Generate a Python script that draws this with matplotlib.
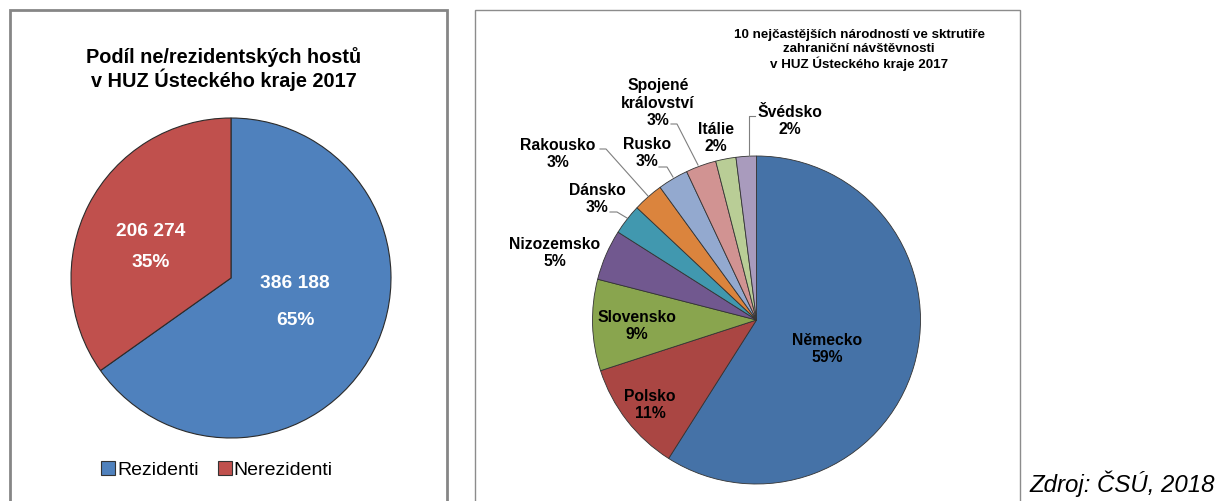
import matplotlib
matplotlib.use("Agg")
import matplotlib.pyplot as plt
from matplotlib.patches import Patch, Rectangle

plt.rcParams['font.family'] = ['Liberation Sans', 'DejaVu Sans']

# left chart: residents vs non-residents
guest_types = ['Rezidenti', 'Nerezidenti']
guest_counts = [386188, 206274]
guest_colors = ['#4F81BD', '#C0504D']

# right chart: top 10 nationalities (%)
countries = ['Německo', 'Polsko', 'Slovensko', 'Nizozemsko', 'Dánsko',
             'Rakousko', 'Rusko', 'Spojené\nkrálovství', 'Itálie', 'Švédsko']
shares = [59, 11, 9, 5, 3, 3, 3, 3, 2, 2]
country_colors = ['#4572A7', '#AA4643', '#89A54E', '#71588F', '#4198AF',
                  '#DB843D', '#93A9CF', '#D19392', '#B9CD96', '#A99BBD']

W, H = 1220, 501
fig = plt.figure(figsize=(W / 100, H / 100), dpi=100)
ax = fig.add_axes([0, 0, 1, 1])


def Y(y):
    # pixel row (from top) -> data y
    return H - y


# panel frames
ax.add_patch(Rectangle((10, Y(510)), 437, 500, fill=False, edgecolor='#868686', lw=2))
ax.add_patch(Rectangle((475, Y(510)), 545, 500, fill=False, edgecolor='#8C8C8C', lw=1))

# ---- left pie ----
ax.pie(guest_counts, colors=guest_colors, startangle=90, counterclock=False,
       center=(231, Y(278)), radius=160, frame=True,
       wedgeprops=dict(edgecolor='#2b2b2b', linewidth=0.8))

total = sum(guest_counts)
left_label_pos = [(295, 302), (151, 247)]
left_label_gap = [2.5, 2.05]
for cnt, (lx, ly), gap in zip(guest_counts, left_label_pos, left_label_gap):
    txt = f"{cnt:,}".replace(',', ' ') + "\n" + f"{round(cnt / total * 100)}%"
    ax.text(lx, Y(ly), txt, ha='center', va='center', color='white',
            fontsize=13.8, fontweight='bold', linespacing=gap)

ax.text(224, Y(69), "Podíl ne/rezidentských hostů\nv HUZ Ústeckého kraje 2017",
        ha='center', va='center', fontsize=14.3, fontweight='bold', linespacing=1.12)

handles = [Patch(facecolor=c, edgecolor='#333333', lw=0.8) for c in guest_colors]
ax.legend(handles, guest_types, loc='center', bbox_to_anchor=(217, Y(470)),
          bbox_transform=ax.transData, ncol=2, frameon=False, fontsize=14,
          handlelength=0.7, handleheight=0.7, handletextpad=0.1, columnspacing=1.0)

# ---- right pie ----
ax.pie(shares, colors=country_colors, startangle=90, counterclock=False,
       center=(756.5, Y(320)), radius=164, frame=True,
       wedgeprops=dict(edgecolor='#333333', linewidth=0.6))

right_label_pos = [(827, 349), (650, 405), (637, 326), (555, 253), (597, 199),
                   (558, 154), (647, 153), (658, 103), (716, 138), (790, 121)]
for name, p, (lx, ly) in zip(countries, shares, right_label_pos):
    ax.text(lx, Y(ly), f"{name}\n{p}%", ha='center', va='center',
            fontsize=11.3, fontweight='bold', linespacing=1.23)

leaders = [
    [(610, 212), (617, 212), (627, 218)],   # Dánsko
    [(600, 149), (606, 149), (648, 196)],   # Rakousko
    [(659, 167), (667, 167), (673, 177)],   # Rusko
    [(671, 124), (677, 124), (698, 165)],   # Spojené království
    [(755, 116), (749, 116), (749, 156)],   # Švédsko
]
for pts in leaders:
    ax.plot([p[0] for p in pts], [Y(p[1]) for p in pts], color='#7f7f7f', lw=0.8)

ax.text(859, Y(50), "10 nejčastějších národností ve sktrutiře\nzahraniční návštěvnosti\n"
        "v HUZ Ústeckého kraje 2017", ha='center', va='center',
        fontsize=9.6, fontweight='bold', linespacing=1.15)

ax.text(1215, Y(484), "Zdroj: ČSÚ, 2018", ha='right', va='center',
        fontsize=17.3, style='italic')

ax.set_xlim(0, W)
ax.set_ylim(0, H)
ax.set_aspect('auto')
ax.axis('off')

fig.savefig('out.png', dpi=100)
